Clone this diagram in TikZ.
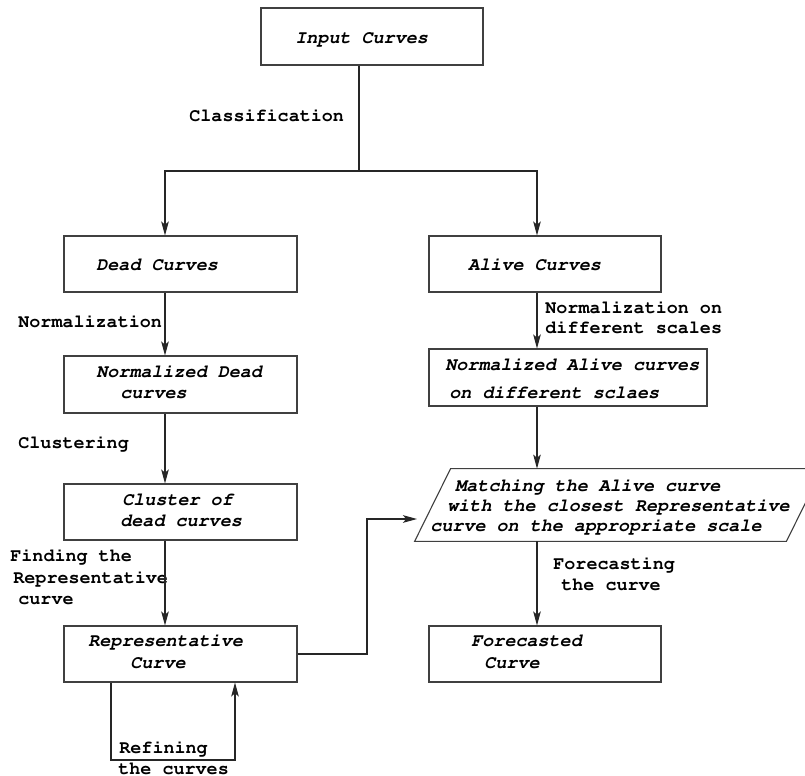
\documentclass[tikz,border=0pt]{standalone}
\usepackage[T1]{fontenc}
\usepackage{courier}
\usetikzlibrary{arrows.meta,calc}
\begin{document}
\begin{tikzpicture}[x=0.5pt,y=-0.5pt,
  box/.style={draw=black!75, line width=0.55pt, rectangle, inner sep=0pt},
  txt/.style={anchor=base west, inner sep=0pt, font=\ttfamily\bfseries\slshape\fontsize{9.2}{11}\selectfont},
  lab/.style={anchor=base west, inner sep=0pt, font=\ttfamily\bfseries\fontsize{9.2}{11}\selectfont},
  conn/.style={draw=black!85, line width=0.55pt},
  arr/.style={conn, -{Stealth[length=7pt,width=3.8pt,inset=1.6pt]}}]
\useasboundingbox (0,0) rectangle (805,776);
\fill[white] (0,0) rectangle (805,776);

% boxes
\node[box, minimum width=111pt, minimum height=28.5pt] (in) at (372,36.5) {};
\node[box, minimum width=116.5pt, minimum height=28pt] (dead) at (180.5,264) {};
\node[box, minimum width=116.5pt, minimum height=28.5pt] (normdead) at (180.5,384.5) {};
\node[box, minimum width=116.5pt, minimum height=28pt] (cluster) at (180.5,512) {};
\node[box, minimum width=116.5pt, minimum height=28pt] (rep) at (180.5,654) {};
\node[box, minimum width=116pt, minimum height=28pt] (alive) at (545,264) {};
\node[box, minimum width=139pt, minimum height=28.5pt] (normalive) at (568,377.5) {};
\node[box, minimum width=116pt, minimum height=28pt] (forecast) at (545,654) {};
\node[draw=none, inner sep=0pt, minimum width=203.5pt, minimum height=36pt] (match) at (618.5,505) {};
\begin{scope}
  \clip (0,0) rectangle (805,776);
  \draw[black!75, line width=0.55pt] ($(match.north west)+(36,0)$) -- (match.north east)
    -- ($(match.south east)+(-36,0)$) -- (match.south west) -- cycle;
\end{scope}

% box texts
\node[txt] (t1) at (295,44) {Input Curves};
\node[txt] (t2) at (96,270) {Dead Curves};
\node[txt] (t3) at (96,377) {Normalized Dead};
\node[txt] (t4) at (120,398) {curves};
\node[txt] (t5) at (122,505) {Cluster of};
\node[txt] (t6) at (120,526) {dead curves};
\node[txt] (t7) at (88,646) {Representative};
\node[txt] (t8) at (130,668) {Curve};
\node[txt] (t9) at (468,270) {Alive Curves};
\node[txt] (t10) at (445,370) {Normalized Alive curves};
\node[txt] (t11) at (449,398) {on different sclaes};
\node[txt] (t12) at (455,491) {Matching the Alive curve};
\node[txt] (t13) at (447,511) {with the closest Representative};
\node[txt] (t14) at (430,531) {curve on the appropriate scale};
\node[txt] (t15) at (471,646) {Forecasted};
\node[txt] (t16) at (484,668) {Curve};

% labels
\node[lab] (l1) at (189,121) {Classification};
\node[lab] (l2) at (18,327) {Normalization};
\node[lab] (l3) at (18,448) {Clustering};
\node[lab] (l4) at (10,561) {Finding the};
\node[lab] (l5) at (13,583) {Representative};
\node[lab] (l6) at (18,604) {curve};
\node[lab] (l7) at (545,313) {Normalization on};
\node[lab] (l8) at (545,333) {different scales};
\node[lab] (l9) at (553,569) {Forecasting};
\node[lab] (l10) at (561,590) {the curve};
\node[lab] (l11) at (119,753) {Refining};
\node[lab] (l12) at (118,774) {the curves};

% helper coordinates
\coordinate (split) at (359,171);
\coordinate (lx) at (165,0);
\coordinate (rx) at (537,0);
\coordinate (mi) at (417,519);
\coordinate (bend) at (367,654);
\coordinate (lp1) at (111,760);
\coordinate (lp2) at (235,760);

% connectors
\draw[conn] (in.south -| split) -- (split);
\draw[arr] (split) -| (dead.north -| lx);
\draw[arr] (split) -| (alive.north -| rx);
\draw[arr] (dead.south -| lx) -- (normdead.north -| lx);
\draw[arr] (normdead.south -| lx) -- (cluster.north -| lx);
\draw[arr] (cluster.south -| lx) -- (rep.north -| lx);
\draw[arr] (alive.south -| rx) -- (normalive.north -| rx);
\draw[arr] (normalive.south -| rx) -- (match.north -| rx);
\draw[arr] (match.south -| rx) -- (forecast.north -| rx);
\draw[arr] (rep.east) -- (bend) |- (mi);
\draw[arr] (rep.south -| lp1) -- (lp1) -- (lp2) -- (rep.south -| lp2);
\end{tikzpicture}
\end{document}
